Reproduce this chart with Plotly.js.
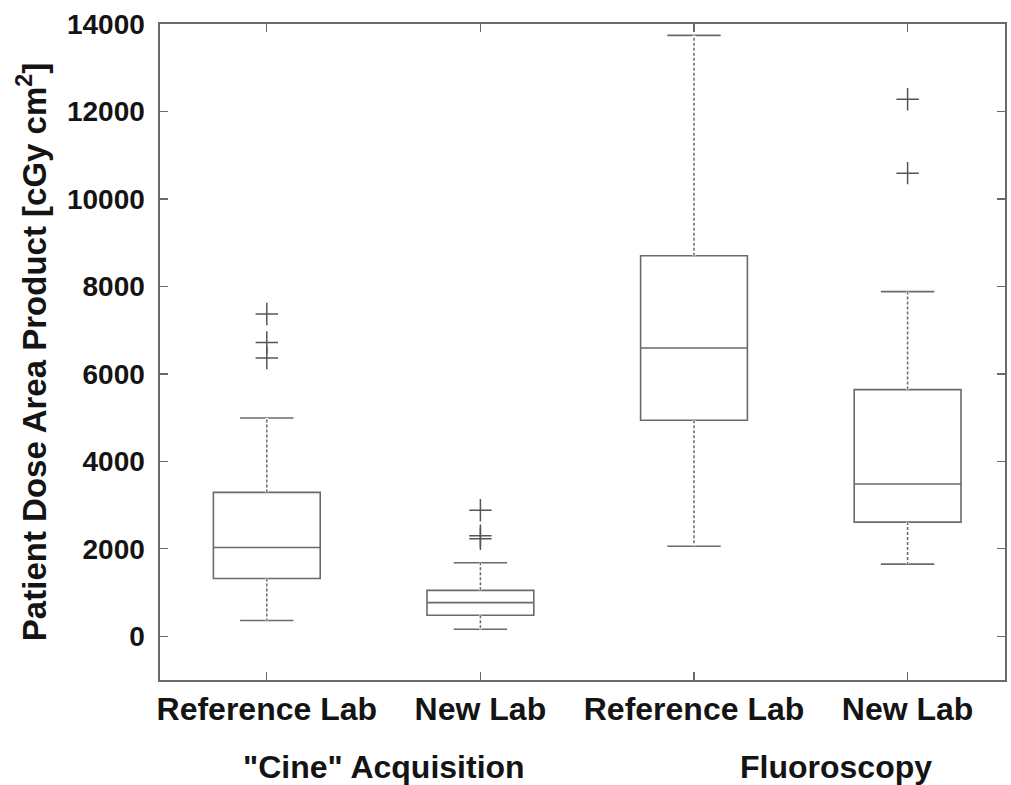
<!DOCTYPE html>
<html>
<head>
<meta charset="utf-8">
<script src="https://cdn.plot.ly/plotly-3.0.1.min.js"></script>
<style>
  html, body { margin: 0; padding: 0; background: #ffffff; }
  #chart { width: 1011px; height: 785px; }
</style>
</head>
<body>
<div id="chart"></div>
<script>
// ---- Data ----
const positions = [1, 2, 3, 4];
const categories = ["Reference Lab", "New Lab", "Reference Lab", "New Lab"];
const groupLabels = ['"Cine" Acquisition', "Fluoroscopy"];
const yTickValues = [0, 2000, 4000, 6000, 8000, 10000, 12000, 14000];
const yTickLabels = ["0", "2000", "4000", "6000", "8000", "10000", "12000", "14000"];
const lowerWhisker = [360, 160, 2060, 1650];
const q1Values = [1320, 480, 4940, 2610];
const medianValues = [2030, 770, 6590, 3480];
const q3Values = [3290, 1050, 8700, 5640];
const upperWhisker = [4990, 1680, 13740, 7880];
const outliers1 = [6360, 6720, 7370];
const outliers2 = [2230, 2300, 2880];
const outliers3 = [];
const outliers4 = [10590, 12280];
const outlierSets = [outliers1, outliers2, outliers3, outliers4];

const lineColor = "#6a6a6a";
const textColor = "#141414";
const fontFamily = "'Liberation Sans', Arial, Helvetica, sans-serif";

const traces = [];

// Boxes
positions.forEach((p, i) => {
  traces.push({
    type: "box",
    x: [p],
    q1: [q1Values[i]],
    median: [medianValues[i]],
    q3: [q3Values[i]],
    lowerfence: [lowerWhisker[i]],
    upperfence: [upperWhisker[i]],
    width: 0.5,
    whiskerwidth: 0.5,
    boxpoints: false,
    fillcolor: "rgba(255,255,255,0)",
    line: { color: lineColor, width: 1.6 },
    name: categories[i],
    showlegend: false,
    hoverinfo: "skip"
  });
});

// Dashed whisker overlay (white mask then dashed line)
const wx = [], wy = [];
positions.forEach((p, i) => {
  wx.push(p, p, null, p, p, null);
  wy.push(q3Values[i], upperWhisker[i], null, q1Values[i], lowerWhisker[i], null);
});
traces.push({
  type: "scatter", mode: "lines", x: wx, y: wy,
  line: { color: "#ffffff", width: 3 },
  showlegend: false, hoverinfo: "skip", connectgaps: false
});
traces.push({
  type: "scatter", mode: "lines", x: wx, y: wy,
  line: { color: lineColor, width: 1.5, dash: "3px,2px" },
  showlegend: false, hoverinfo: "skip", connectgaps: false
});

// Outliers
const ox = [], oy = [];
outlierSets.forEach((set, i) => {
  set.forEach(v => { ox.push(positions[i]); oy.push(v); });
});
traces.push({
  type: "scatter", mode: "markers", x: ox, y: oy,
  marker: { symbol: "cross-thin-open", size: 16, color: "#555555", line: { color: "#555555", width: 1.5 } },
  showlegend: false, hoverinfo: "skip"
});

const layout = {
  width: 1011,
  height: 785,
  margin: { l: 160, r: 4, t: 24, b: 105 },
  paper_bgcolor: "#ffffff",
  plot_bgcolor: "#ffffff",
  showlegend: false,
  font: { family: fontFamily, color: textColor },
  xaxis: {
    range: [0.5, 4.456],
    tickvals: positions,
    ticktext: categories,
    ticks: "inside",
    ticklen: 8,
    tickwidth: 1.3,
    tickcolor: lineColor,
    showline: true,
    linecolor: lineColor,
    linewidth: 1.6,
    mirror: "ticks",
    showgrid: false,
    zeroline: false,
    tickfont: { family: fontFamily, size: 32, color: textColor, weight: "bold" },
    ticklabelstandoff: 0
  },
  yaxis: {
    range: [-1000, 14000],
    tickvals: yTickValues,
    ticktext: yTickLabels,
    ticks: "inside",
    ticklen: 8,
    tickwidth: 1.3,
    tickcolor: lineColor,
    showline: true,
    linecolor: lineColor,
    linewidth: 1.6,
    mirror: "ticks",
    showgrid: false,
    zeroline: false,
    tickfont: { family: fontFamily, size: 28, color: textColor, weight: "bold" },
    ticklabelstandoff: 8,
    automargin: true,
    title: {
      text: "Patient Dose Area Product [cGy cm<sup>2</sup>]",
      font: { family: fontFamily, size: 33, color: textColor, weight: "bold" },
      standoff: 10
    }
  },
  annotations: [
    { text: groupLabels[0], xref: "x", yref: "paper", x: 1.548, y: -0.1326,
      showarrow: false, xanchor: "center", yanchor: "middle",
      font: { family: fontFamily, size: 32, color: textColor, weight: "bold" } },
    { text: groupLabels[1], xref: "x", yref: "paper", x: 3.667, y: -0.1326,
      showarrow: false, xanchor: "center", yanchor: "middle",
      font: { family: fontFamily, size: 32, color: textColor, weight: "bold" } }
  ]
};

Plotly.newPlot("chart", traces, layout, { staticPlot: true, displayModeBar: false });
</script>
</body>
</html>
